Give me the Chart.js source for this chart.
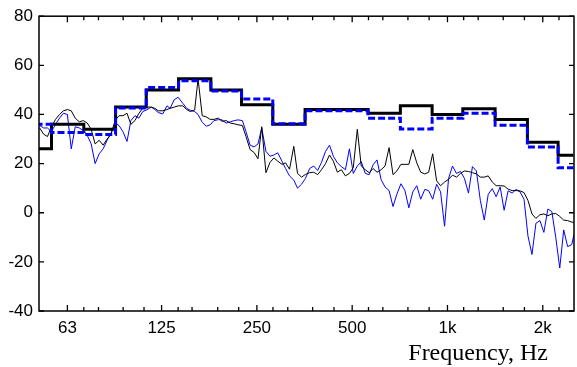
<!DOCTYPE html>
<html>
<head>
<meta charset="utf-8">
<script src="https://cdn.jsdelivr.net/npm/chart.js@4.4.0/dist/chart.umd.min.js"></script>
<style>
  html, body { margin: 0; padding: 0; background: #fff; }
</style>
</head>
<body>
<canvas id="chart" width="577" height="367"></canvas>
<script>
// third-octave band centres and the two band-level step lines
bandFreqs = [50, 63, 80, 100, 125, 160, 200, 250, 315, 400, 500, 630, 800, 1000, 1250, 1600, 2000, 2500];
bandBlack = [26, 36, 34, 43, 50, 54.5, 50, 44, 36, 42, 42, 40.5, 43.5, 40, 42.3, 38, 28.7, 23.4];
bandBlue = [36, 32.7, 31.8, 42.6, 51, 53.7, 49.6, 46.3, 36.2, 41.5, 41.5, 38.5, 34.1, 38.5, 40.5, 35.6, 26.8, 18.3];

// narrow-band spectra
freqs = [50, 51.5, 53, 54.5, 56.1, 57.8, 59.5, 61.2, 63, 64.8, 66.7, 68.7, 70.7, 72.8, 74.9, 77.1, 79.4, 81.7, 84.1, 86.6, 89.1, 91.7, 94.4, 97.2,
    100, 103, 106, 109, 112, 116, 119, 122, 126, 130, 133, 137, 141, 146, 150, 154, 159, 163, 168, 173, 178, 183, 189, 194,
    200, 206, 212, 218, 225, 231, 238, 245, 252, 259, 267, 275, 283, 291, 300, 308, 317, 327, 336, 346, 356, 367, 378, 389,
    400, 412, 424, 436, 449, 462, 476, 490, 504, 519, 534, 550, 566, 582, 599, 617, 635, 654, 673, 692, 713, 734, 755, 777,
    800, 823, 848, 872, 898, 924, 951, 979, 1008, 1037, 1068, 1099, 1131, 1165, 1199, 1234, 1270, 1307, 1345, 1385, 1425, 1467, 1510, 1554,
    1600, 1647, 1695, 1745, 1796, 1849, 1903, 1959, 2016, 2075, 2136, 2198, 2263, 2329, 2397, 2468, 2540];
spectrumBlack = [34, 34.5, 32, 31, 35, 38, 40, 41.5, 42, 41.5, 38.5, 37, 37.5, 36.5, 34, 28, 29.5, 27.5, 30, 32, 37.5, 39.5, 39.5, 40.5,
    36, 37.5, 40.5, 42.5, 43, 43, 42.5, 41.5, 41.5, 42, 42.5, 43, 43.5, 43.5, 42, 41.2, 41.8, 54.5, 39.5, 39, 38, 38, 38.5, 37.2,
    37.5, 36.5, 36.2, 35.8, 35.5, 31, 25.7, 24.5, 22, 35, 16.3, 20.5, 22.3, 21, 19.7, 20.3, 17.7, 27, 16, 14.5, 15.6, 16.3, 16.5, 15.5,
    17.5, 20, 23.5, 21, 16.5, 17.5, 15, 16, 18.3, 34, 19, 17.5, 16.3, 18, 16.5, 17.5, 19, 26.5, 15.5, 17, 19.7, 19.7, 19.7, 25.7,
    20.3, 16.5, 15.8, 16.5, 24, 13, 11, 12.5, 13.6, 15.3, 14.5, 16, 17, 16.8, 16.3, 15.8, 14.5, 14.5, 15, 12.5, 11, 11, 10.9, 9.6,
    9, 9, 8.9, 8.2, 5, -0.5, -2.3, -0.8, -0.5, -1.2, -0.5, -0.3, -1.5, -3, -3.2, -3.8, -4];
spectrumBlue = [36, 35.5, 34.5, 34.5, 33, 36, 38.5, 40.5, 40, 26, 35, 34.5, 33.5, 31.5, 28, 20, 24, 26, 29.5, 32.5, 36.5, 35.5, 33, 29,
    37.5, 39.5, 38.5, 41.2, 41.8, 43, 42, 40.8, 40.2, 43.5, 42.5, 46, 47, 44.5, 42.5, 41.7, 41.2, 40, 36.8, 35.2, 35.8, 37.5, 37.9, 37.8,
    36.5, 37, 37.5, 37.8, 37.5, 33, 27.5, 26.8, 28, 34.5, 25, 23, 23.5, 24.4, 21, 18, 15, 13.3, 10, 11.6, 14, 18, 19, 17.2,
    20.5, 25, 27.5, 23, 20.3, 18.8, 17.5, 26, 16, 19, 20.8, 16, 15.5, 19.5, 21.5, 13.5, 10.5, 9, 2.5, 7.5, 11.8, 9, 2, 8.5,
    11, 5.5, 9.5, 9, 5.5, 11.6, 8.5, -5.5, 14, 19, 16, 16.8, 14, 8, 18.8, 17, 5, -3, 7.5, 9.8, 6.5, 10.5, 1, 8.9,
    8, 9.5, 8.5, 5.5, -9.5, -17, -4.3, -3.2, -8, 1.5, 0.5, -10, -22.5, -7, -13.8, -13, -6];

// axis ticks
majorTicks = [63, 125, 250, 500, 1000, 2000];
majorLabels = ['63', '125', '250', '500', '1k', '2k'];
minorTicks = [71, 79, 94.5, 110, 141, 156, 188, 219, 281, 313, 375, 438, 563, 625, 750, 875, 1125, 1250, 1500, 1750, 2250];
yTicks = [-40, -20, 0, 20, 40, 60, 80];

tickFont = { family: '"Liberation Sans", Arial, sans-serif', size: 17 };

function toPoints(xs, ys) {
    return xs.map((x, i) => ({ x: x, y: ys[i] }));
}

// MATLAB-like box with inward ticks on all four sides
var frame = {
    id: 'frame',
    afterDatasetsDraw(chart) {
        var ctx = chart.ctx;
        var a = chart.chartArea;
        var x = chart.scales.x;
        var y = chart.scales.y;
        ctx.save();
        ctx.strokeStyle = '#000';
        ctx.lineWidth = 1.3;
        ctx.beginPath();
        majorTicks.forEach(f => {
            var px = x.getPixelForValue(f);
            ctx.moveTo(px, a.bottom); ctx.lineTo(px, a.bottom - 6);
            ctx.moveTo(px, a.top); ctx.lineTo(px, a.top + 6);
        });
        minorTicks.forEach(f => {
            var px = x.getPixelForValue(f);
            ctx.moveTo(px, a.bottom); ctx.lineTo(px, a.bottom - 4);
            ctx.moveTo(px, a.top); ctx.lineTo(px, a.top + 4);
        });
        yTicks.forEach(v => {
            var py = y.getPixelForValue(v);
            ctx.moveTo(a.left, py); ctx.lineTo(a.left + 5, py);
            ctx.moveTo(a.right, py); ctx.lineTo(a.right - 5, py);
        });
        ctx.stroke();
        ctx.lineWidth = 1.5;
        ctx.strokeRect(a.left, a.top, a.right - a.left, a.bottom - a.top);

        ctx.fillStyle = '#000';
        ctx.font = '24px "Liberation Serif", "Times New Roman", serif';
        ctx.textAlign = 'right';
        ctx.textBaseline = 'alphabetic';
        ctx.fillText('Frequency, Hz', a.right - 26, 360);
        ctx.restore();
    }
};

new Chart(document.getElementById('chart'), {
    type: 'line',
    data: {
        datasets: [{
            data: toPoints(bandFreqs, bandBlue),
            borderColor: '#0000ff',
            borderWidth: 3,
            borderDash: [7, 3],
            stepped: 'middle',
            order: 0
        }, {
            data: toPoints(bandFreqs, bandBlack),
            borderColor: '#000000',
            borderWidth: 3,
            stepped: 'middle',
            order: 1
        }, {
            data: toPoints(freqs, spectrumBlack),
            borderColor: '#000000',
            borderWidth: 1,
            order: 2
        }, {
            data: toPoints(freqs, spectrumBlue),
            borderColor: '#0000ff',
            borderWidth: 1,
            order: 3
        }]
    },
    options: {
        responsive: false,
        animation: false,
        layout: { padding: { top: 14, right: 3, left: 0, bottom: 0 } },
        datasets: { line: { clip: 0, pointRadius: 0, tension: 0, fill: false } },
        plugins: {
            legend: { display: false },
            tooltip: { enabled: false }
        },
        scales: {
            x: {
                type: 'logarithmic',
                min: 51.25,
                max: 2510,
                grid: { display: false, drawTicks: false },
                border: { display: false },
                afterBuildTicks: scale => {
                    scale.ticks = majorTicks.map(v => ({ value: v }));
                },
                afterFit: scale => { scale.height = 56; },
                ticks: {
                    autoSkip: false,
                    maxRotation: 0,
                    padding: 7,
                    color: '#000',
                    font: tickFont,
                    callback: value => majorLabels[majorTicks.indexOf(value)]
                }
            },
            y: {
                min: -40,
                max: 80,
                grid: { display: false, drawTicks: false },
                border: { display: false },
                afterFit: scale => { scale.width = 39; },
                ticks: {
                    stepSize: 20,
                    padding: 6,
                    color: '#000',
                    font: tickFont
                }
            }
        }
    },
    plugins: [frame]
});
</script>
</body>
</html>
